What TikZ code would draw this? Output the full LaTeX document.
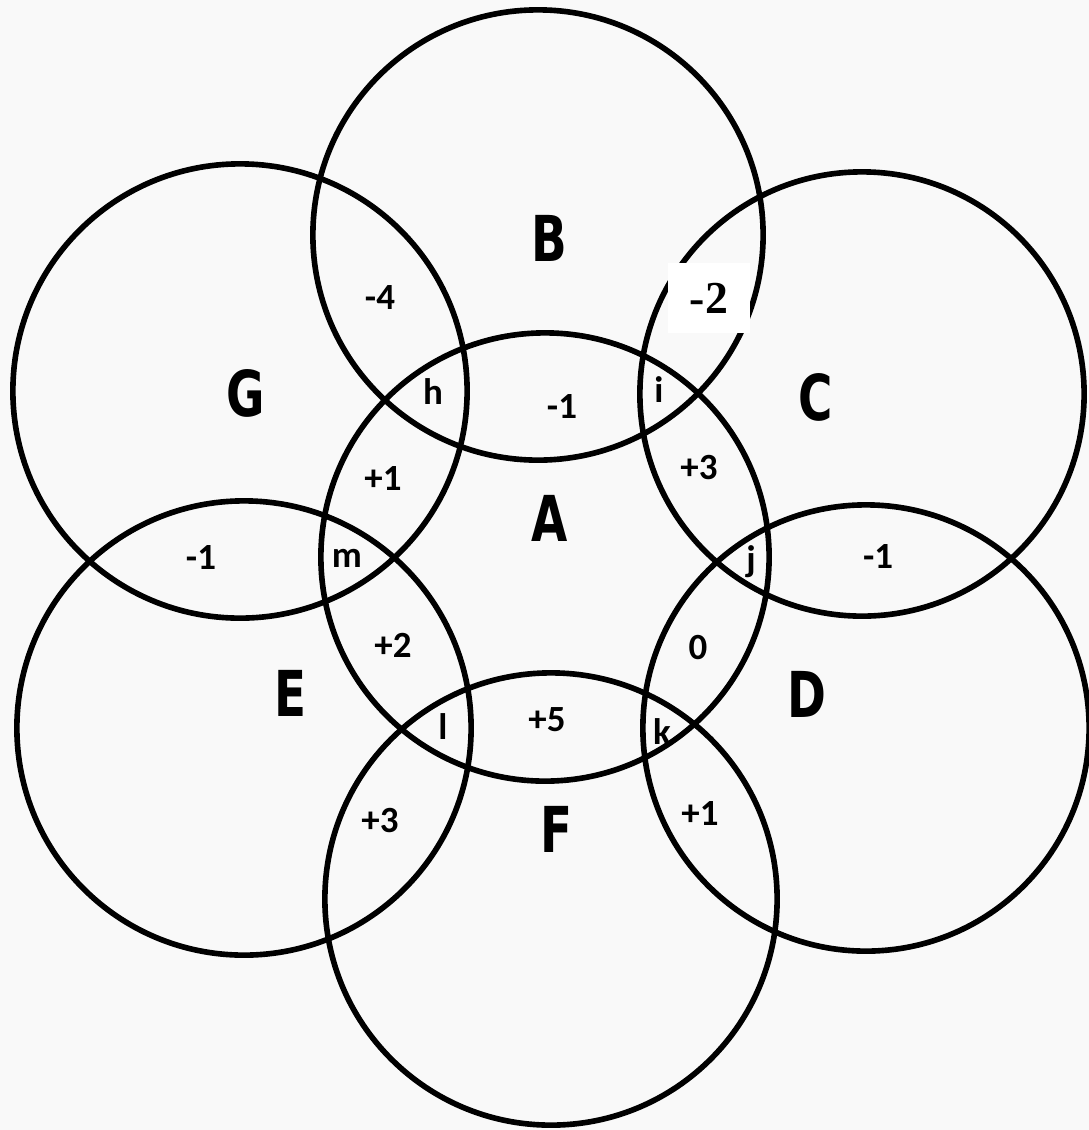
\documentclass[tikz,border=0pt]{standalone}
\usepackage{fontspec}
\setmainfont{Carlito}
\newfontfamily\headfont{DejaVu Sans}
\newfontfamily\boxfont{Liberation Serif}
\usepackage{tikz}
\newcommand{\squeeze}[1]{\scalebox{0.74}[1]{#1}}

\begin{document}
\begin{tikzpicture}
 [x=0.01cm, y=-0.01cm,
  ring/.style={circle, draw, line width=1.6pt, inner sep=0pt},
  set label/.style={font=\headfont\bfseries\fontsize{18}{18}\selectfont},
  part label/.style={inner sep=1pt, font=\bfseries\fontsize{10.5}{10.5}\selectfont},
  boxed label/.style={fill=white, inner sep=0pt, minimum width=0.81cm, minimum height=0.69cm,
    font=\boxfont\bfseries\fontsize{13}{13}\selectfont}]

 \fill[gray!5] (0,0) rectangle (1089,1130);
 \useasboundingbox (0,0) rectangle (1089,1130);

 % the seven circles
 \node[ring, minimum size=4.48cm] (ringA) at (545,557) {};
 \node[ring, minimum size=4.50cm] (ringB) at (538,235) {};
 \node[ring, minimum size=4.44cm] (ringC) at (862,394) {};
 \node[ring, minimum size=4.46cm] (ringD) at (866,728) {};
 \node[ring, minimum size=4.54cm] (ringE) at (244,728) {};
 \node[ring, minimum size=4.52cm] (ringF) at (551,899) {};
 \node[ring, minimum size=4.54cm] (ringG) at (240,391) {};

 % set names
 \node[set label] (A) at (550,518) {\squeeze{A}};
 \node[set label] (B) at (549,238) {\squeeze{B}};
 \node[set label] (C) at (816,397) {\squeeze{C}};
 \node[set label] (D) at (807,694) {\squeeze{D}};
 \node[set label] (E) at (290,693) {\squeeze{E}};
 \node[set label] (F) at (556,829) {\squeeze{F}};
 \node[set label] (G) at (246,393) {\squeeze{G}};

 % overlaps
 \node[boxed label] (bc) at (709,298) {-2};
 \node[part label] (bg) at (380,298) {-4};
 \node[part label] (ab) at (562,407) {-1};
 \node[part label] (h) at (433,392) {h};
 \node[part label] (i) at (659,390) {i};
 \node[part label] (ag) at (383,479) {+1};
 \node[part label] (ac) at (699,468) {+3};
 \node[part label] (ge) at (201,558) {-1};
 \node[part label] (m) at (347,558) {m};
 \node[part label] (j) at (751,562) {j};
 \node[part label] (cd) at (878,556) {-1};
 \node[part label] (ae) at (393,645) {+2};
 \node[part label] (ad) at (698,648) {0};
 \node[part label] (l) at (443,727) {l};
 \node[part label] (af) at (547,720) {+5};
 \node[part label] (k) at (662,732) {k};
 \node[part label] (ef) at (380,821) {+3};
 \node[part label] (df) at (700,813) {+1};

\end{tikzpicture}
\end{document}
